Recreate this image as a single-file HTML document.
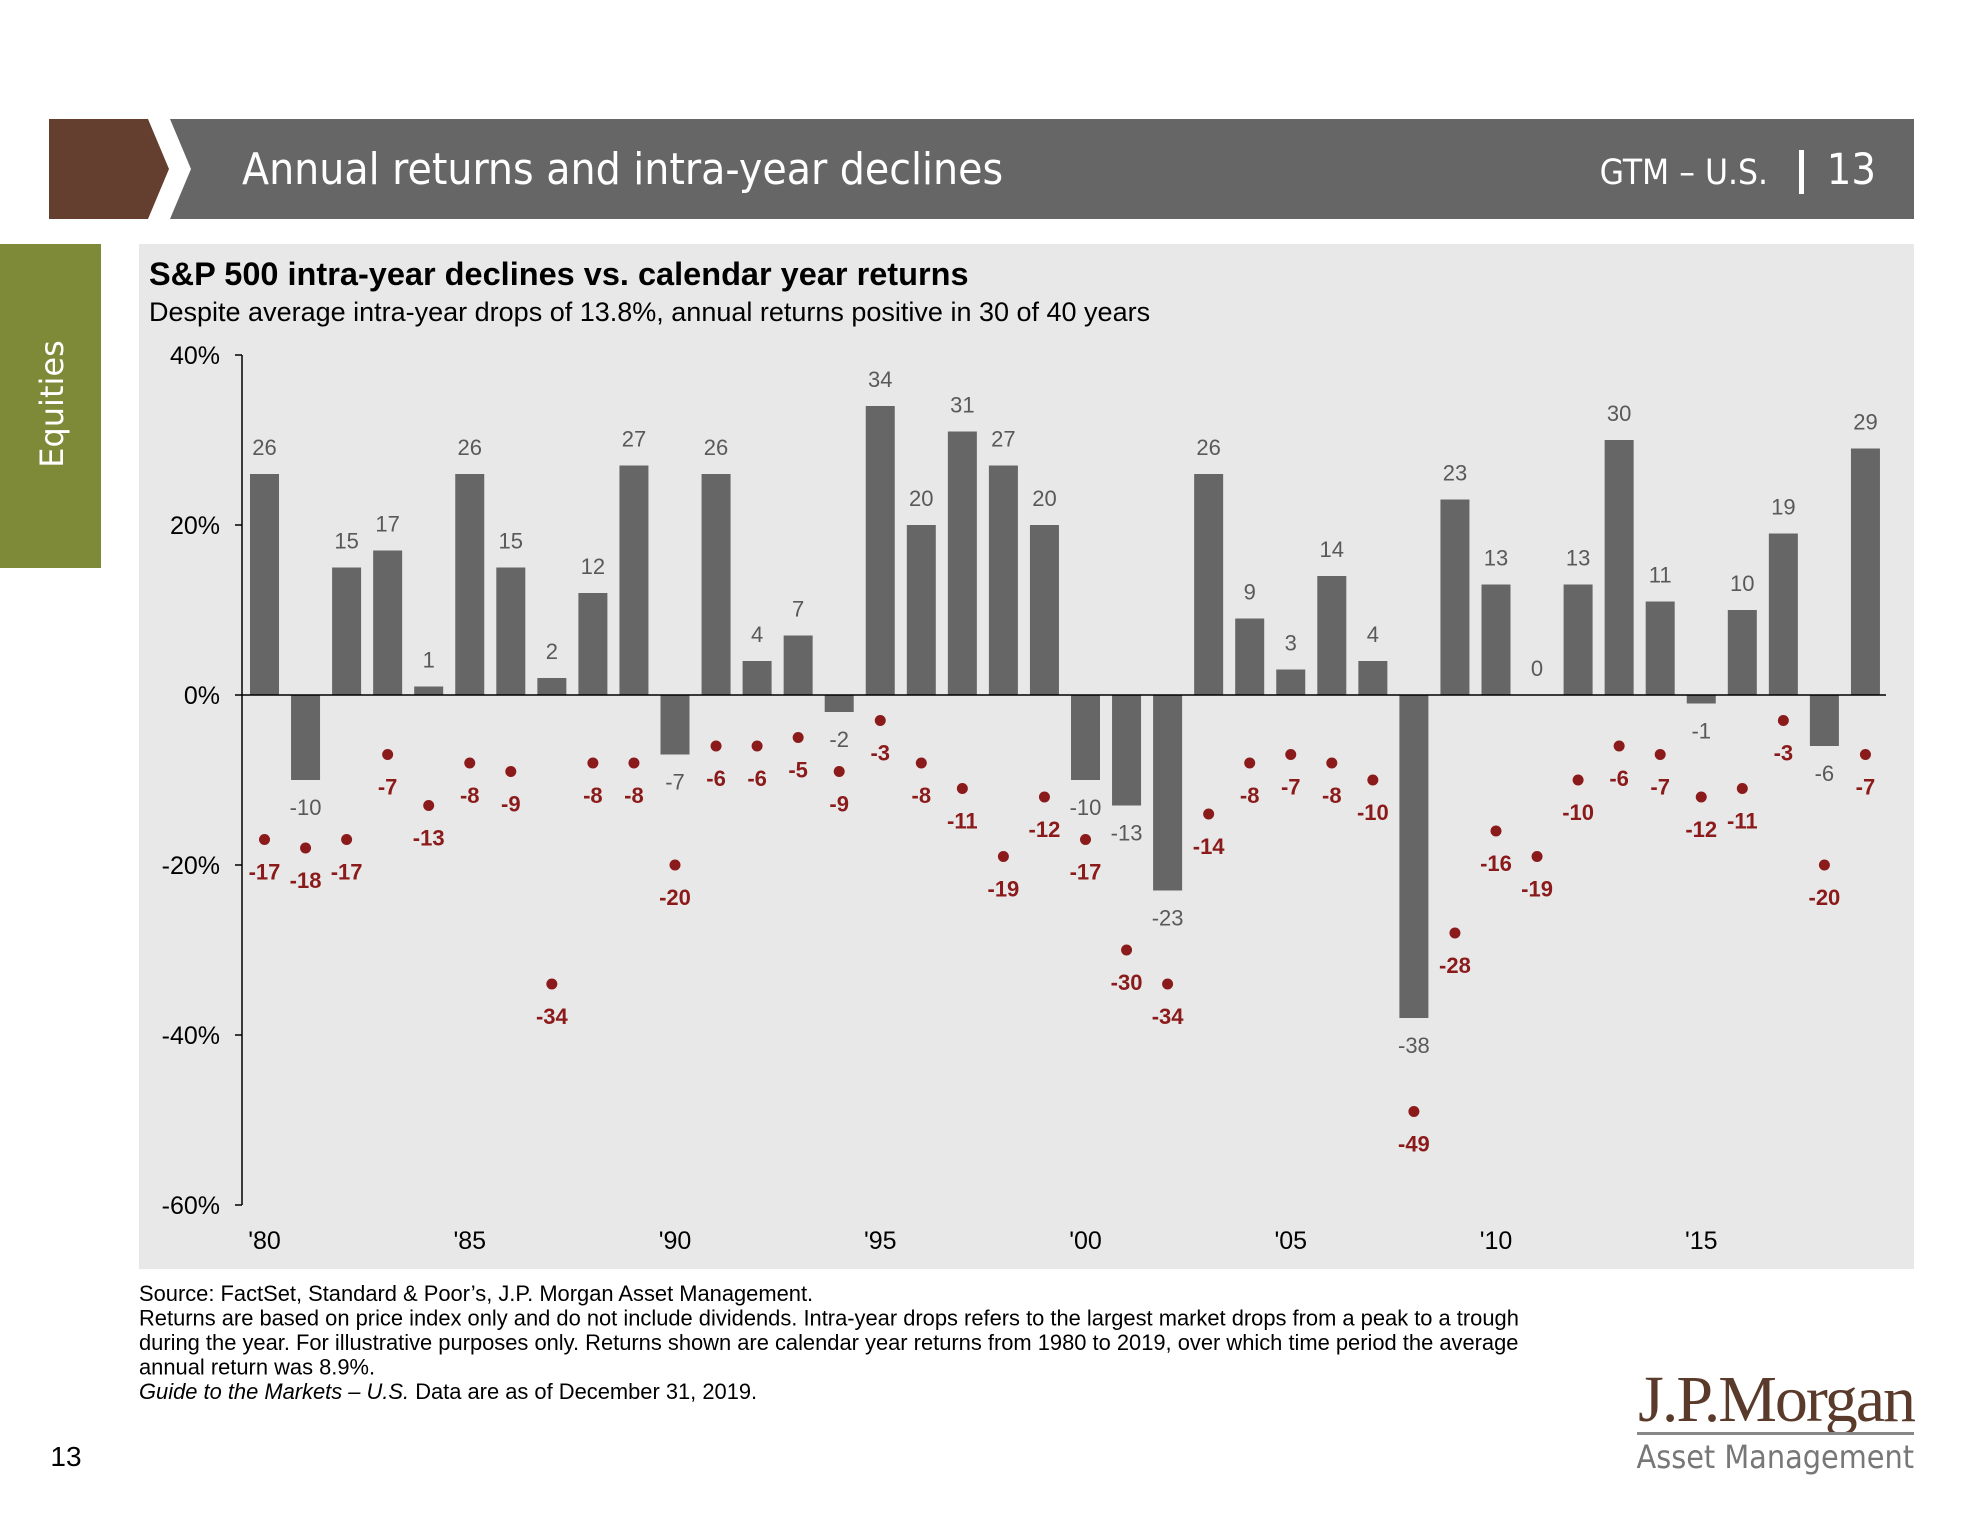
<!DOCTYPE html>
<html><head><meta charset="utf-8">
<style>
body{margin:0;background:#fff;width:1961px;height:1515px;overflow:hidden;font-family:"Liberation Sans",sans-serif;}
svg{display:block}
</style></head>
<body>
<svg id="chart" width="1961" height="1515" viewBox="0 0 1961 1515" xmlns="http://www.w3.org/2000/svg">
  <polygon points="49,119 148,119 169,169 148,219 49,219" fill="#643f30"/>
  <polygon points="170,119 1914,119 1914,219 170,219 191,169" fill="#666666"/>
  <text x="242" y="184" font-family="'DejaVu Sans Condensed','Liberation Sans Narrow',sans-serif" font-size="44" fill="#fff">Annual returns and intra-year declines</text>
  <text x="1768" y="184" text-anchor="end" font-family="'DejaVu Sans Condensed',sans-serif" font-size="35" fill="#fff">GTM – U.S.</text>
  <rect x="1799" y="150" width="5" height="44" fill="#fff"/>
  <text x="1876" y="184" text-anchor="end" font-family="'DejaVu Sans Condensed',sans-serif" font-size="43" fill="#fff">13</text>
  <rect x="0" y="244" width="101" height="324" fill="#7f8a38"/>
  <text transform="translate(63,404) rotate(-90)" text-anchor="middle" font-family="'DejaVu Sans',sans-serif" font-size="32" fill="#fff">Equities</text>
  <rect x="139" y="244" width="1775" height="1025" fill="#e8e8e8"/>
  <text x="149" y="285" font-size="32.5" font-weight="bold" fill="#000">S&amp;P 500 intra-year declines vs. calendar year returns</text>
  <text x="149" y="321" font-size="27" fill="#000">Despite average intra-year drops of 13.8%, annual returns positive in 30 of 40 years</text>
  <g id="plot"></g>
  <text x="139" y="1301" font-size="21.9" fill="#000">Source: FactSet, Standard &amp; Poor’s, J.P. Morgan Asset Management.</text>
  <text x="139" y="1325.5" font-size="21.9" fill="#000">Returns are based on price index only and do not include dividends. Intra-year drops refers to the largest market drops from a peak to a trough</text>
  <text x="139" y="1350" font-size="21.9" fill="#000">during the year. For illustrative purposes only. Returns shown are calendar year returns from 1980 to 2019, over which time period the average</text>
  <text x="139" y="1374.5" font-size="21.9" fill="#000">annual return was 8.9%.</text>
  <text x="139" y="1399" font-size="21.9" fill="#000"><tspan font-style="italic">Guide to the Markets – U.S.</tspan> Data are as of December 31, 2019.</text>
  <text x="66" y="1466" text-anchor="middle" font-size="28" fill="#000">13</text>
  <text x="1914" y="1421" text-anchor="end" font-family="'Liberation Serif',serif" font-size="66" fill="#5a3a2a" letter-spacing="-2">J.P.Morgan</text>
  <rect x="1637" y="1432" width="277" height="3" fill="#888"/>
  <text x="1914" y="1468" text-anchor="end" font-family="'DejaVu Sans Condensed',sans-serif" font-size="32" fill="#777">Asset Management</text>
</svg>
<script>
const years = [1980,1981,1982,1983,1984,1985,1986,1987,1988,1989,1990,1991,1992,1993,1994,1995,1996,1997,1998,1999,2000,2001,2002,2003,2004,2005,2006,2007,2008,2009,2010,2011,2012,2013,2014,2015,2016,2017,2018,2019];
const returns = [26,-10,15,17,1,26,15,2,12,27,-7,26,4,7,-2,34,20,31,27,20,-10,-13,-23,26,9,3,14,4,-38,23,13,0,13,30,11,-1,10,19,-6,29];
const declines = [-17,-18,-17,-7,-13,-8,-9,-34,-8,-8,-20,-6,-6,-5,-9,-3,-8,-11,-19,-12,-17,-30,-34,-14,-8,-7,-8,-10,-49,-28,-16,-19,-10,-6,-7,-12,-11,-3,-20,-7];
const yTicks = [40,20,0,-20,-40,-60];
const xTickLabels = ["'80","'85","'90","'95","'00","'05","'10","'15"];
const xTickYears = [1980,1985,1990,1995,2000,2005,2010,2015];

const NS="http://www.w3.org/2000/svg";
const plot=document.getElementById('plot');
const Y0=695, PXPER=170/20;
function y(v){return Y0 - v*PXPER;}
function x(yr){return 264.5 + (yr-1980)*41.05;}
function mk(tag,attrs,txt){const e=document.createElementNS(NS,tag);for(const k in attrs)e.setAttribute(k,attrs[k]);if(txt!==undefined)e.textContent=txt;plot.appendChild(e);return e;}

let ax=mk('line',{x1:242,x2:242,y1:y(40),y2:y(-60),stroke:'#000','stroke-width':1.5});


yTicks.forEach(t=>{
  const tk=mk('line',{x1:235,x2:242,y1:y(t),y2:y(t),stroke:'#000','stroke-width':1.5});
  
  
  const lb=mk('text',{x:220,y:y(t)+9,'text-anchor':'end','font-size':25,fill:'#000'},t+'%');
  
  
});
returns.forEach((v,i)=>{
  const cx=x(years[i]);
  const top=Math.min(y(v),Y0), h=Math.abs(y(v)-Y0);
  const b=mk('rect',{x:cx-14.5,y:top,width:29,height:h,fill:'#666666'});
  
  
  const ly = v>=0 ? y(v)-19 : y(v)+35;
  const l=mk('text',{x:cx,y:ly,'text-anchor':'middle','font-size':22,fill:'#595959'},String(v));
  
  
});
const zl=mk('line',{x1:242,x2:1886,y1:Y0,y2:Y0,stroke:'#000','stroke-width':1.5});


declines.forEach((v,i)=>{
  const cx=x(years[i]);
  const d=mk('circle',{cx:cx,cy:y(v),r:5.5,fill:'#8b1a1a'});
  
  
  const l=mk('text',{x:cx,y:y(v)+40,'text-anchor':'middle','font-size':22,'font-weight':'bold',fill:'#8b1a1a'},String(v));
  
  
});
xTickYears.forEach((yr,i)=>{
  const l=mk('text',{x:x(yr),y:1249,'text-anchor':'middle','font-size':25,fill:'#000'},xTickLabels[i]);
  
  
});
</script>
</body></html>
